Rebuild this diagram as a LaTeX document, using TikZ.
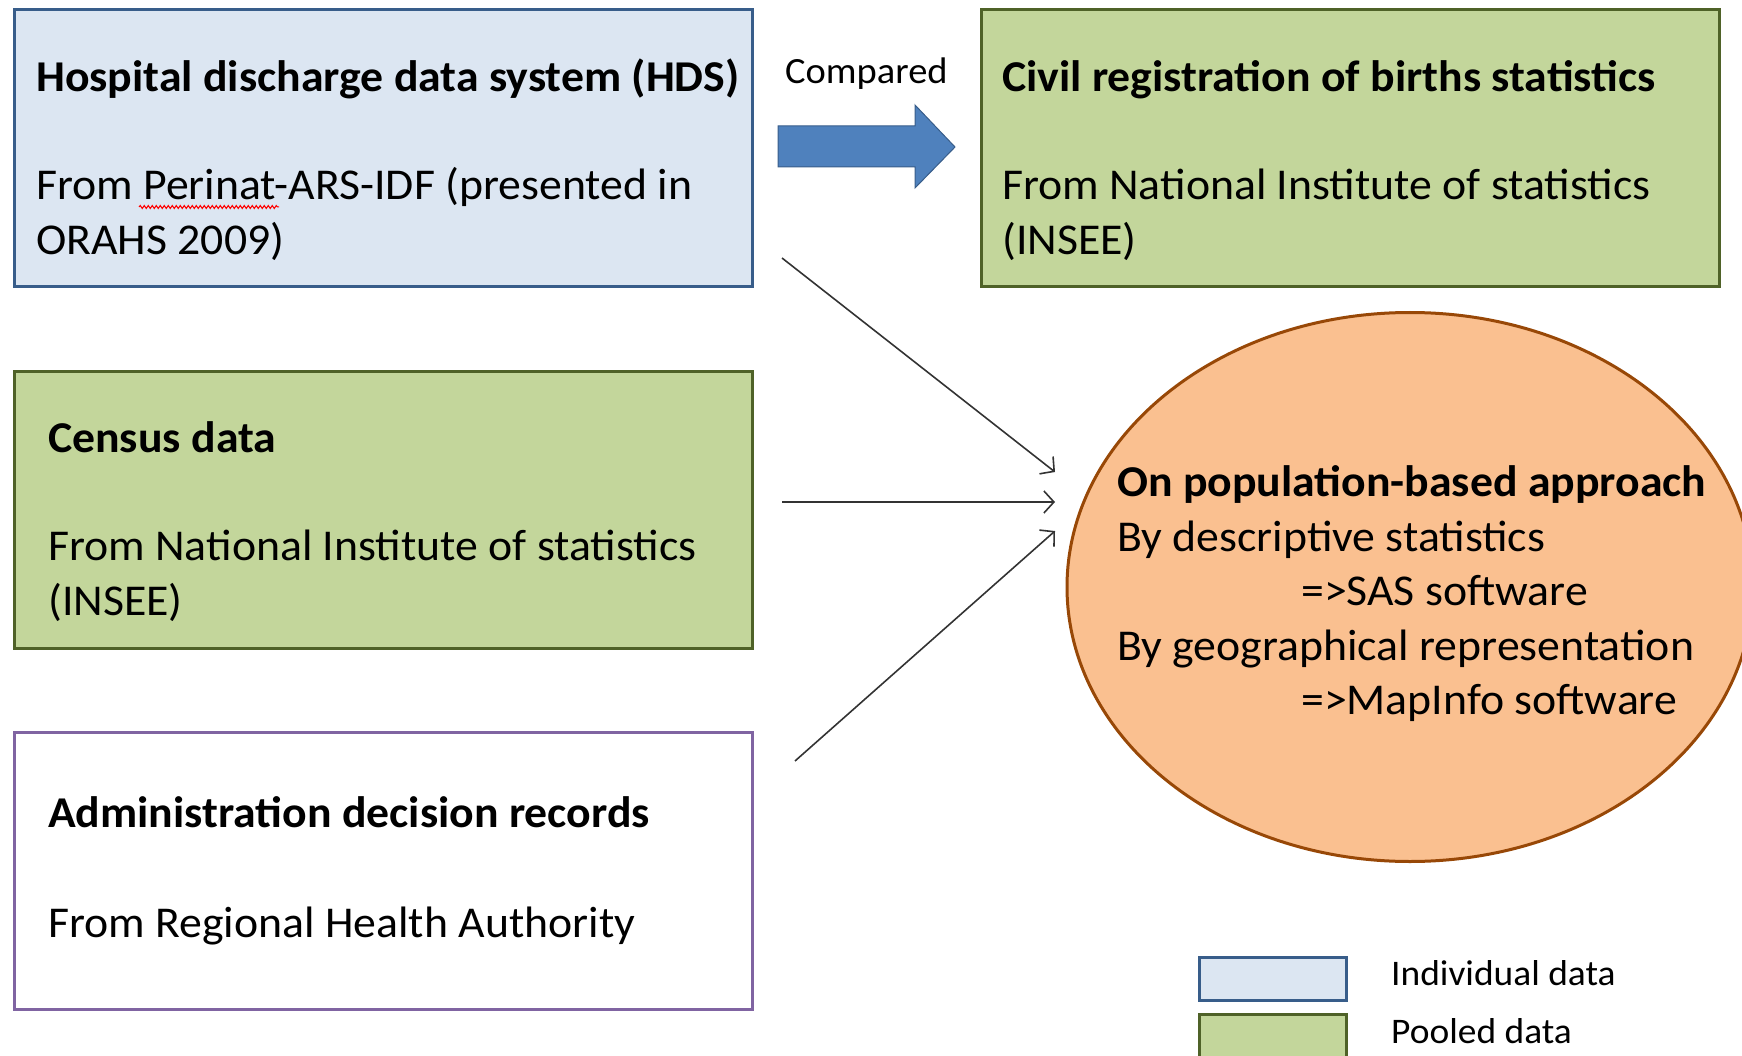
\documentclass[tikz,border=0pt]{standalone}
\usepackage{fontspec}
\setmainfont{Carlito}[FakeStretch=1.04]
\usetikzlibrary{arrows.meta, shapes.geometric, decorations.pathmorphing}
\tikzset{>={Straight Barb[length=10pt,width=22pt]}}
\definecolor{indfill}{HTML}{DCE6F2}
\definecolor{inddraw}{HTML}{385D8A}
\definecolor{poolfill}{HTML}{C3D69B}
\definecolor{pooldraw}{HTML}{4F6228}
\definecolor{admdraw}{HTML}{8064A2}
\definecolor{ellfill}{HTML}{FAC090}
\definecolor{elldraw}{HTML}{984807}
\definecolor{arrfill}{HTML}{4F81BD}

\begin{document}
\begin{tikzpicture}[
    x = 1pt, y = -1pt,
    box/.style = {draw, line width=3pt, minimum width=738pt,
        minimum height=277pt, inner sep=0pt, anchor=north west},
    indiv/.style = {box, draw=inddraw, fill=indfill},
    pooled/.style = {box, draw=pooldraw, fill=poolfill},
    admin/.style = {box, draw=admdraw, fill=white},
    txt/.style = {anchor=base west, inner sep=0pt,
        font=\fontsize{44}{52}\selectfont},
    head/.style = {txt, font=\fontsize{44}{52}\selectfont\bfseries},
    small/.style = {anchor=base west, inner sep=0pt,
        font=\fontsize{36}{42}\selectfont},
    link/.style = {->, line width=1.6pt, draw=black!80},
    legbox/.style = {draw, line width=3pt, minimum width=147pt,
        minimum height=43pt, inner sep=0pt, anchor=north west}
  ]
  \useasboundingbox (0,0) rectangle (1742,1056);

  % data sources
  \node[indiv]  (HDS)    at (13,8)   {};
  \node[pooled] (CIVIL)  at (980,8)  {};
  \node[pooled] (CENSUS) at (13,370) {};
  \node[admin]  (ADMIN)  at (13,731) {};

  \node[head] (HDSt) at (36,92)  {Hospital discharge data system (HDS)};
  \node[txt]  (HDSa) at (36,200) {From Perinat-ARS-IDF (presented in};
  \node[txt]  (HDSb) at (36,255) {ORAHS 2009)};
  \draw[red, line width=1pt, decorate,
    decoration={snake, amplitude=1.5pt, segment length=4pt}]
    (139,207) -- (279,207);

  \node[head] (CIVILt) at (1002,92)  {Civil registration of births statistics};
  \node[txt]  (CIVILa) at (1002,200) {From National Institute of statistics};
  \node[txt]  (CIVILb) at (1002,255) {(INSEE)};

  \node[head] (CENSUSt) at (48,452) {Census data};
  \node[txt]  (CENSUSa) at (48,560) {From National Institute of statistics};
  \node[txt]  (CENSUSb) at (48,615) {(INSEE)};

  \node[head] (ADMINt) at (48,827) {Administration decision records};
  \node[txt]  (ADMINa) at (48,937) {From Regional Health Authority};

  % comparison arrow
  \draw[draw=inddraw, fill=arrfill, line width=1pt]
    (778,126) -- (915,126) -- (915,105) -- (955,147) -- (915,188)
    -- (915,167) -- (778,167) -- cycle;
  \node[small, font=\fontsize{37}{42}\selectfont] (CMP) at (785,84) {Compared};

  % approach
  \node[ellipse, draw=elldraw, fill=ellfill, line width=3pt,
    minimum width=686pt, minimum height=549pt] (APPROACH) at (1410,587) {};
  \node[head] (APt) at (1117,496) {On population-based approach};
  \node[txt]  (APa) at (1117,551) {By descriptive statistics};
  \node[txt]  (APb) at (1301,605) {=>SAS software};
  \node[txt]  (APc) at (1117,660) {By geographical representation};
  \node[txt]  (APd) at (1301,714) {=>MapInfo software};

  % links
  \coordinate (S1) at (782,258);  \coordinate (E1) at (1055,472);
  \coordinate (S2) at (782,502);  \coordinate (E2) at (1055,502);
  \coordinate (S3) at (795,761);  \coordinate (E3) at (1055,531);
  \draw[link] (S1) -- (E1);
  \draw[link] (S2) -- (E2);
  \draw[link] (S3) -- (E3);

  % legend
  \node[legbox, draw=inddraw, fill=indfill]   (LEGI) at (1198,956)  {};
  \node[legbox, draw=pooldraw, fill=poolfill] (LEGP) at (1198,1013) {};
  \node[small] (LEGIt) at (1391,985)  {Individual data};
  \node[small] (LEGPt) at (1391,1043) {Pooled data};
\end{tikzpicture}
\end{document}
